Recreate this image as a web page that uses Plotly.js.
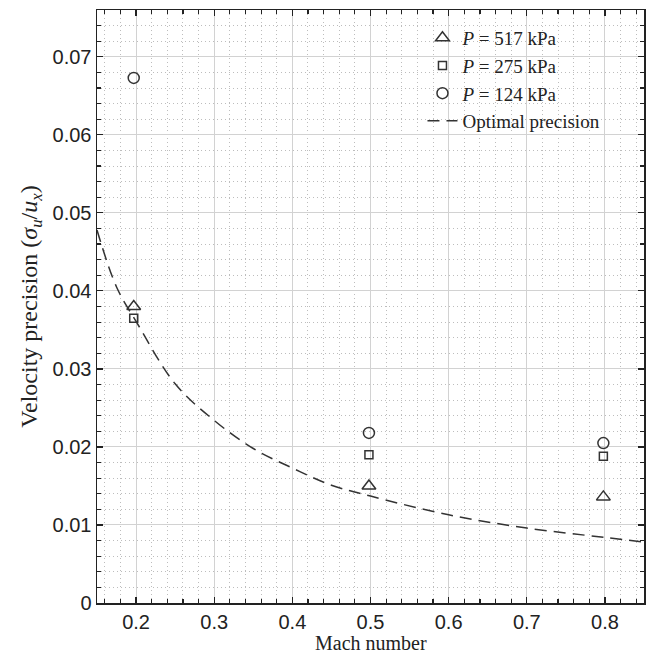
<!DOCTYPE html>
<html>
<head>
<meta charset="utf-8">
<script src="https://cdn.plot.ly/plotly-3.0.1.min.js"></script>
<style>html,body{margin:0;padding:0;background:#fff;}#chart{width:651px;height:655px;}</style>
</head>
<body>
<div id="chart"></div>
<script>
// Measured data
const mach = [0.197, 0.498, 0.798];
const p517 = [0.0380, 0.0150, 0.0136];
const p275 = [0.0365, 0.0190, 0.0188];
const p124 = [0.0673, 0.0218, 0.0205];
// Optimal precision curve
const optMach = [0.15, 0.175, 0.2, 0.25, 0.3, 0.35, 0.4, 0.45, 0.5, 0.6, 0.7, 0.8, 0.85];
const optPrec = [0.0478, 0.0405, 0.0361, 0.0281, 0.0234, 0.0198, 0.0173, 0.0151, 0.0137, 0.0113, 0.0096, 0.0084, 0.0078];
const legendNames = ['<i>P</i>&nbsp;=&nbsp;517 kPa', '<i>P</i>&nbsp;=&nbsp;275 kPa', '<i>P</i>&nbsp;=&nbsp;124 kPa', 'Optimal precision'];
const xTitle = 'Mach number';
const yTitle = 'Velocity precision (<i>σ<sub>u</sub></i>/<i>u<sub>x</sub></i>)';

const ink = '#333333';
const serif = 'Liberation Serif, Times New Roman, serif';
const sans = 'Liberation Sans, Arial, sans-serif';

const traces = [
  {x: mach, y: p517, mode: 'markers', name: legendNames[0],
   marker: {symbol: 'triangle-up-open', size: 12, color: ink, line: {width: 1.5, color: ink}}},
  {x: mach, y: p275, mode: 'markers', name: legendNames[1],
   marker: {symbol: 'square-open', size: 8, color: ink, line: {width: 1.5, color: ink}}},
  {x: mach, y: p124, mode: 'markers', name: legendNames[2],
   marker: {symbol: 'circle-open', size: 11, color: ink, line: {width: 1.5, color: ink}}},
  {x: optMach, y: optPrec, mode: 'lines', name: legendNames[3],
   line: {color: ink, width: 1.5, dash: '12px,7px', shape: 'spline'}}
];

const axisCommon = {
  showline: true, linecolor: '#222', linewidth: 1.5, mirror: 'allticks',
  ticks: 'inside', ticklen: 6, tickcolor: '#222', tickwidth: 1.2,
  showgrid: true, gridcolor: '#d2d2d2', gridwidth: 1,
  zeroline: false,
  tickfont: {family: sans, size: 20, color: '#222'}
};

const minorCommon = {ticks: 'inside', ticklen: 4, tickcolor: '#222',
  showgrid: true, gridcolor: '#bdbdbd', griddash: '1px,3px', gridwidth: 1};

const layout = {
  width: 651, height: 655,
  margin: {l: 97, r: 7, t: 10, b: 52},
  paper_bgcolor: '#fff', plot_bgcolor: '#fff',
  showlegend: true,
  legend: {x: 0.595, y: 0.985, xanchor: 'left', yanchor: 'top',
           bgcolor: 'rgba(0,0,0,0)', borderwidth: 0,
           font: {family: serif, size: 19, color: '#222'},
           tracegroupgap: 0},
  annotations: [{
    text: xTitle, xref: 'paper', yref: 'paper', x: 0.5, y: -0.087,
    xanchor: 'center', yanchor: 'bottom', showarrow: false, borderpad: 0,
    font: {family: serif, size: 20, color: '#222'}
  }],
  xaxis: Object.assign({}, axisCommon, {
    range: [0.15, 0.85], tickmode: 'array',
    tickvals: [0.2, 0.3, 0.4, 0.5, 0.6, 0.7, 0.8],
    ticktext: ['0.2', '0.3', '0.4', '0.5', '0.6', '0.7', '0.8'],
    minor: Object.assign({dtick: 0.02, tick0: 0}, minorCommon)
  }),
  yaxis: Object.assign({}, axisCommon, {
    range: [0, 0.076], tickmode: 'array',
    tickvals: [0, 0.01, 0.02, 0.03, 0.04, 0.05, 0.06, 0.07],
    ticktext: ['0', '0.01', '0.02', '0.03', '0.04', '0.05', '0.06', '0.07'],
    minor: Object.assign({dtick: 0.002, tick0: 0}, minorCommon),
    title: {text: yTitle, font: {family: serif, size: 24, color: '#222'}, standoff: 8}
  })
};

Plotly.newPlot('chart', traces, layout, {displayModeBar: false, staticPlot: true});
</script>
</body>
</html>
